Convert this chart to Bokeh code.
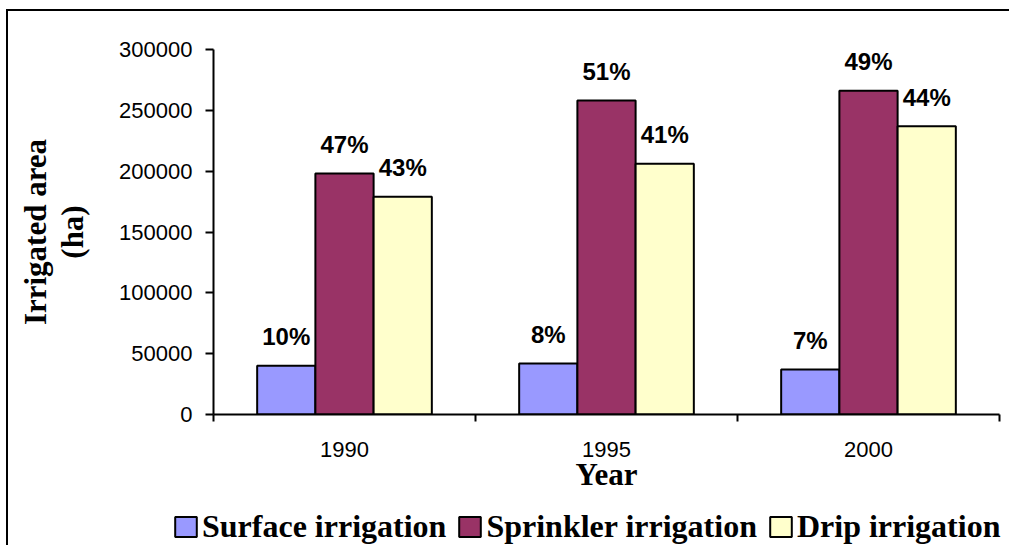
from bokeh.plotting import figure
from bokeh.models import (ColumnDataSource, Range1d, FixedTicker, BasicTickFormatter,
                          Legend, LegendItem)
from bokeh.core.properties import value
from bokeh.embed import file_html
from bokeh.resources import INLINE

# ---- data ----
years = ["1990", "1995", "2000"]
series_names = ["Surface irrigation", "Sprinkler irrigation", "Drip irrigation"]
surface = [40000, 42000, 37000]
sprinkler = [198000, 258000, 266000]
drip = [179000, 206000, 237000]
surface_pct = ["10%", "8%", "7%"]
sprinkler_pct = ["47%", "51%", "49%"]
drip_pct = ["43%", "41%", "44%"]
y_ticks = [0, 50000, 100000, 150000, 200000, 250000, 300000]

colors = ["#9999FF", "#993366", "#FFFFCC"]
values = [surface, sprinkler, drip]
pcts = [surface_pct, sprinkler_pct, drip_pct]

n_series = len(values)
bar_w = 1.0 / (n_series + 1.5)

W = 1003
H_MAIN = 498
H_LEG = 38

p = figure(width=W, height=H_MAIN, output_backend="svg", toolbar_location=None,
           x_range=Range1d(0, len(years)), y_range=Range1d(0, 300000),
           min_border_left=205, min_border_top=38, min_border_bottom=95,
           min_border_right=12)
p.styles = {"border-top": "2px solid black", "border-left": "2px solid black",
            "margin-left": "6px", "margin-top": "9px"}
p.background_fill_color = "white"
p.border_fill_color = "white"
p.outline_line_color = None
p.xgrid.visible = False
p.ygrid.visible = False

sans = value("Liberation Sans")

sources = []
for k in range(n_series):
    off = (k - (n_series - 1) / 2) * bar_w
    xs = [i + 0.5 + off for i in range(len(years))]
    src = ColumnDataSource(dict(x=xs, top=values[k], label=pcts[k]))
    sources.append(src)
    p.vbar(x="x", top="top", bottom=0, width=bar_w, source=src,
           fill_color=colors[k], line_color="black", line_width=2)
    p.text(x="x", y="top", text="label", source=src, text_align="center",
           text_baseline="alphabetic", y_offset=-29,
           text_font=sans, text_font_style="bold", text_font_size="24px",
           text_color="black")

# x axis: labels at category centres, ticks at category boundaries
xa = p.xaxis[0]
xa.ticker = FixedTicker(ticks=[i + 0.5 for i in range(len(years))],
                        minor_ticks=list(range(len(years) + 1)))
xa.major_label_overrides = {i + 0.5: y for i, y in enumerate(years)}
xa.major_tick_line_color = None
xa.major_tick_out = 0
xa.major_tick_in = 0
xa.minor_tick_out = 7
xa.minor_tick_in = 0
xa.minor_tick_line_width = 2
xa.minor_tick_line_color = "black"
xa.axis_line_width = 2
xa.axis_line_color = "black"
xa.major_label_text_font = "Liberation Sans"
xa.major_label_text_font_size = "22px"
xa.major_label_text_color = "black"
xa.major_label_standoff = 20
xa.axis_label = "Year"
xa.axis_label_text_font = "Liberation Serif"
xa.axis_label_text_font_style = "bold"
xa.axis_label_text_font_size = "31px"
xa.axis_label_text_color = "black"
xa.axis_label_standoff = -3

ya = p.yaxis[0]
ya.ticker = FixedTicker(ticks=y_ticks, minor_ticks=[])
ya.formatter = BasicTickFormatter(use_scientific=False)
ya.major_tick_out = 8
ya.major_tick_in = 0
ya.major_tick_line_width = 2
ya.major_tick_line_color = "black"
ya.minor_tick_line_color = None
ya.axis_line_width = 2
ya.axis_line_color = "black"
ya.major_label_text_font = "Liberation Sans"
ya.major_label_text_font_size = "22px"
ya.major_label_text_color = "black"
ya.major_label_standoff = 13
ya.axis_label = "Irrigated area\n(ha)"
ya.axis_label_text_font = "Liberation Serif"
ya.axis_label_text_font_style = "bold"
ya.axis_label_text_font_size = "31px"
ya.axis_label_text_line_height = 1.05
ya.axis_label_text_color = "black"
ya.axis_label_standoff = 26

# legend strip below the chart (separate root so its frame is not aligned)
p2 = figure(width=W, height=H_LEG, output_backend="svg", toolbar_location=None,
            x_range=Range1d(0, 1), y_range=Range1d(10, 11),
            x_axis_location=None, y_axis_location=None,
            min_border=0)
p2.styles = {"border-left": "2px solid black", "margin-left": "6px"}
p2.outline_line_color = None
p2.background_fill_color = "white"
p2.border_fill_color = "white"
p2.grid.visible = False
items = []
for k in range(n_series):
    r = p2.vbar(x="x", top="top", bottom=0, width=bar_w, source=sources[k],
                fill_color=colors[k], line_color="black", line_width=2,
                visible=False)
    items.append(LegendItem(label=series_names[k], renderers=[r]))

lg = Legend(items=items, orientation="horizontal", location=(164, 0))
lg.border_line_color = None
lg.background_fill_alpha = 0
lg.inactive_fill_alpha = 0
lg.padding = 0
lg.margin = 0
lg.spacing = 10
lg.label_standoff = 3
lg.glyph_width = 27
lg.glyph_height = 25
lg.label_text_font = "Liberation Serif"
lg.label_text_font_style = "bold"
lg.label_text_font_size = "32px"
lg.label_text_color = "black"
p2.add_layout(lg, "center")

open("out.html", "w").write(file_html([p, p2], INLINE))
